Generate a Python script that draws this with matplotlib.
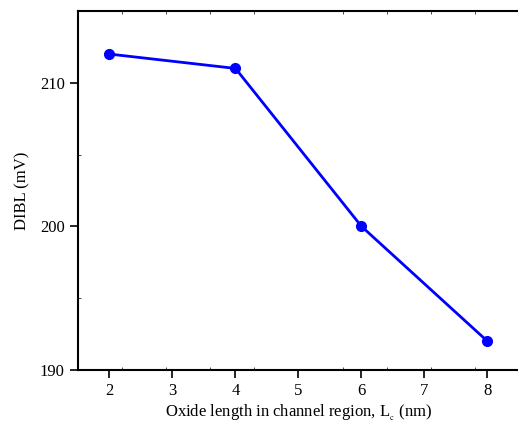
import matplotlib
matplotlib.use('Agg')
import matplotlib.pyplot as plt
from matplotlib.ticker import FixedLocator
import numpy as np

plt.rcParams['font.family'] = 'Liberation Serif'
plt.rcParams['mathtext.fontset'] = 'stix'

oxide_len = [2, 4, 6, 8]
dibl = [212, 211, 200, 192]

fig = plt.figure(figsize=(5.18, 4.26), dpi=100)
ax = fig.add_axes([78/518, 56/426, 441/518, 359/426])

ax.plot(oxide_len, dibl, color='#0000ff', lw=2, marker='o', ms=7)

ax.set_xlim(1.5, 8.5)
ax.set_ylim(190, 215)
ax.set_xticks([2, 3, 4, 5, 6, 7, 8])
ax.set_yticks([190, 200, 210])
ax.xaxis.set_minor_locator(FixedLocator(np.arange(1.5, 8.51, 0.7)))
ax.yaxis.set_minor_locator(FixedLocator([195, 205]))
ax.tick_params(which='major', direction='out', length=6, width=1.2, labelsize=12)
ax.tick_params(which='minor', direction='in', length=2, width=0.5, top=True)
ax.tick_params(axis='x', which='major', top=False)
for s in ['left', 'bottom', 'top']:
    ax.spines[s].set_linewidth(1.5)
ax.spines['right'].set_visible(False)

ax.set_xlabel(r'Oxide length in channel region, L$_{_\mathrm{c}}$ (nm)', fontsize=12, labelpad=3)
ax.set_ylabel('DIBL (mV)', fontsize=12, labelpad=7)

fig.savefig('out.png', dpi=100)
